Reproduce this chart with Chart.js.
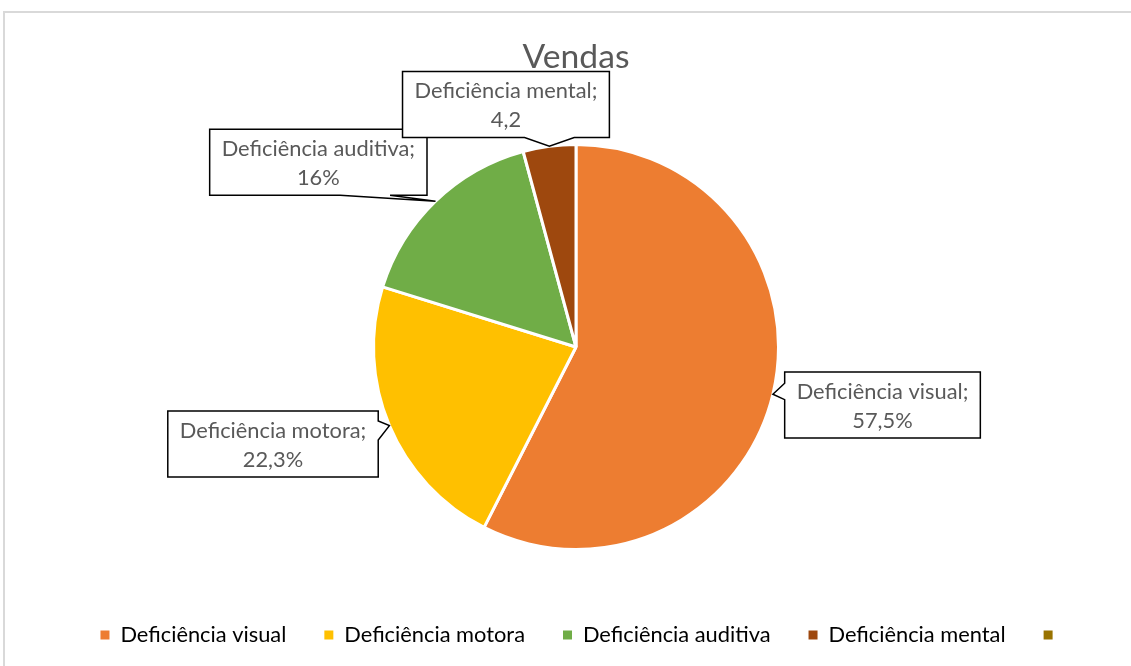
<!DOCTYPE html>
<html><head><meta charset="utf-8">
<script src="https://cdn.jsdelivr.net/npm/chart.js@4.4.1/dist/chart.umd.min.js"></script>
<style>
html,body{margin:0;padding:0;background:#fff;overflow:hidden;width:1131px;height:666px;}
#frame{position:absolute;left:3px;top:11px;width:1300px;height:800px;border:2px solid #d9d9d9;box-sizing:border-box;}
#c{position:absolute;left:0;top:0;}
</style></head><body>
<div id="frame"></div>
<canvas id="c" width="1131" height="666"></canvas>
<script>
// ---- data ----
const titleText = 'Vendas';
const categories = ['Deficiência visual', 'Deficiência motora', 'Deficiência auditiva', 'Deficiência mental', ''];
const values = [57.5, 22.3, 16, 4.2, 0];
const valueLabels = ['57,5%', '22,3%', '16%', '4,2'];
const colors = ['#ED7D31', '#FFC000', '#70AD47', '#9E480E', '#997300'];

// ---- style ----
const FAMILY = 'Lato, "Open Sans", sans-serif';
const TEXT_COLOR = '#595959';
function fitSize(text, target) {
  const ctx = document.createElement('canvas').getContext('2d');
  ctx.font = '100px ' + FAMILY;
  return 100 * target / ctx.measureText(text).width;
}
const labelSize = fitSize('Deficiência visual', 166);
const titleSize = fitSize('Vendas', 107);

// callout boxes: offset of box centre from the slice tip, side of pointer, pointer base fractions
const calloutStyle = [
  {dx: 109.6, dy: 10.7, side: 'left', a: 0.17, b: 0.42},
  {dx: -116.4, dy: 18.4, side: 'right', a: 0.15, b: 0.44},
  {dx: -117.2, dy: -39, side: 'bottom', a: 0.6, b: 0.83},
  {dx: -43.4, dy: -41.8, side: 'bottom', a: 0.59, b: 0.83}
];

const PIE_CY = 347;
const LEG_PAD = 38;
const LEG_MID = 635;
const LEG_SHIFT = 6;
const padBottom = 666 - 10 - labelSize / 2 - LEG_MID;
const legendTop = 666 - padBottom - (labelSize + LEG_PAD + 10);
const areaTop = 2 * PIE_CY - legendTop;
const TITLE_MID = 57;
const titleTopPad = TITLE_MID - 0.6 * titleSize;
const titleBottomPad = areaTop - TITLE_MID - 0.6 * titleSize;

const legendShiftPlugin = {
  id: 'legendShift',
  afterLayout(chart) {
    if (chart.legend) {
      chart.legend.left += LEG_SHIFT;
      chart.legend.right += LEG_SHIFT;
    }
  }
};

const calloutPlugin = {
  id: 'callouts',
  afterDatasetsDraw(chart) {
    const ctx = chart.ctx;
    const meta = chart.getDatasetMeta(0);
    ctx.save();
    ctx.font = labelSize + 'px ' + FAMILY;
    valueLabels.forEach((val, i) => {
      const arc = meta.data[i];
      const st = calloutStyle[i];
      const p = arc.getProps(['x', 'y', 'startAngle', 'endAngle', 'outerRadius'], true);
      const mid = (p.startAngle + p.endAngle) / 2;
      const tx = p.x + p.outerRadius * Math.cos(mid);
      const ty = p.y + p.outerRadius * Math.sin(mid);
      const line1 = categories[i] + ';';
      const w = Math.max(ctx.measureText(line1).width, ctx.measureText(val).width) + 24;
      const h = 66;
      const cx = tx + st.dx, cy = ty + st.dy;
      const x0 = cx - w / 2, x1 = cx + w / 2, y0 = cy - h / 2, y1 = cy + h / 2;
      ctx.beginPath();
      ctx.moveTo(x0, y0);
      ctx.lineTo(x1, y0);
      if (st.side === 'right') {
        ctx.lineTo(x1, y0 + h * st.a);
        ctx.lineTo(tx, ty);
        ctx.lineTo(x1, y0 + h * st.b);
      }
      ctx.lineTo(x1, y1);
      if (st.side === 'bottom') {
        ctx.lineTo(x0 + w * st.b, y1);
        ctx.lineTo(tx, ty);
        ctx.lineTo(x0 + w * st.a, y1);
      }
      ctx.lineTo(x0, y1);
      if (st.side === 'left') {
        ctx.lineTo(x0, y0 + h * st.b);
        ctx.lineTo(tx, ty);
        ctx.lineTo(x0, y0 + h * st.a);
      }
      ctx.closePath();
      ctx.fillStyle = '#fff';
      ctx.fill();
      ctx.lineWidth = 1.5;
      ctx.strokeStyle = '#000';
      ctx.lineJoin = 'miter';
      ctx.stroke();
      ctx.fillStyle = TEXT_COLOR;
      ctx.textAlign = 'center';
      ctx.textBaseline = 'alphabetic';
      ctx.fillText(line1, cx, cy - 6);
      ctx.fillText(val, cx, cy + 23);
    });
    ctx.restore();
  }
};

new Chart(document.getElementById('c'), {
  type: 'pie',
  data: {
    labels: categories,
    datasets: [{
      data: values,
      backgroundColor: colors,
      borderColor: '#ffffff',
      borderWidth: 3
    }]
  },
  options: {
    responsive: false,
    animation: false,
    devicePixelRatio: 1,
    events: [],
    radius: 202.5,
    layout: {padding: {top: 0, left: 21, right: 0, bottom: padBottom}},
    plugins: {
      tooltip: {enabled: false},
      title: {
        display: true,
        text: titleText,
        color: TEXT_COLOR,
        font: {family: FAMILY, size: titleSize, weight: 'normal', lineHeight: 1.2},
        padding: {top: titleTopPad, bottom: titleBottomPad}
      },
      legend: {
        display: true,
        position: 'bottom',
        labels: {
          color: TEXT_COLOR,
          font: {family: FAMILY, size: labelSize},
          boxWidth: 9,
          boxHeight: 9,
          padding: LEG_PAD,
          generateLabels(chart) {
            return chart.data.labels.map((l, i) => ({
              text: l,
              fillStyle: colors[i],
              strokeStyle: colors[i],
              lineWidth: 0,
              hidden: false,
              index: i
            }));
          }
        }
      }
    }
  },
  plugins: [legendShiftPlugin, calloutPlugin]
});
</script>
</body></html>
